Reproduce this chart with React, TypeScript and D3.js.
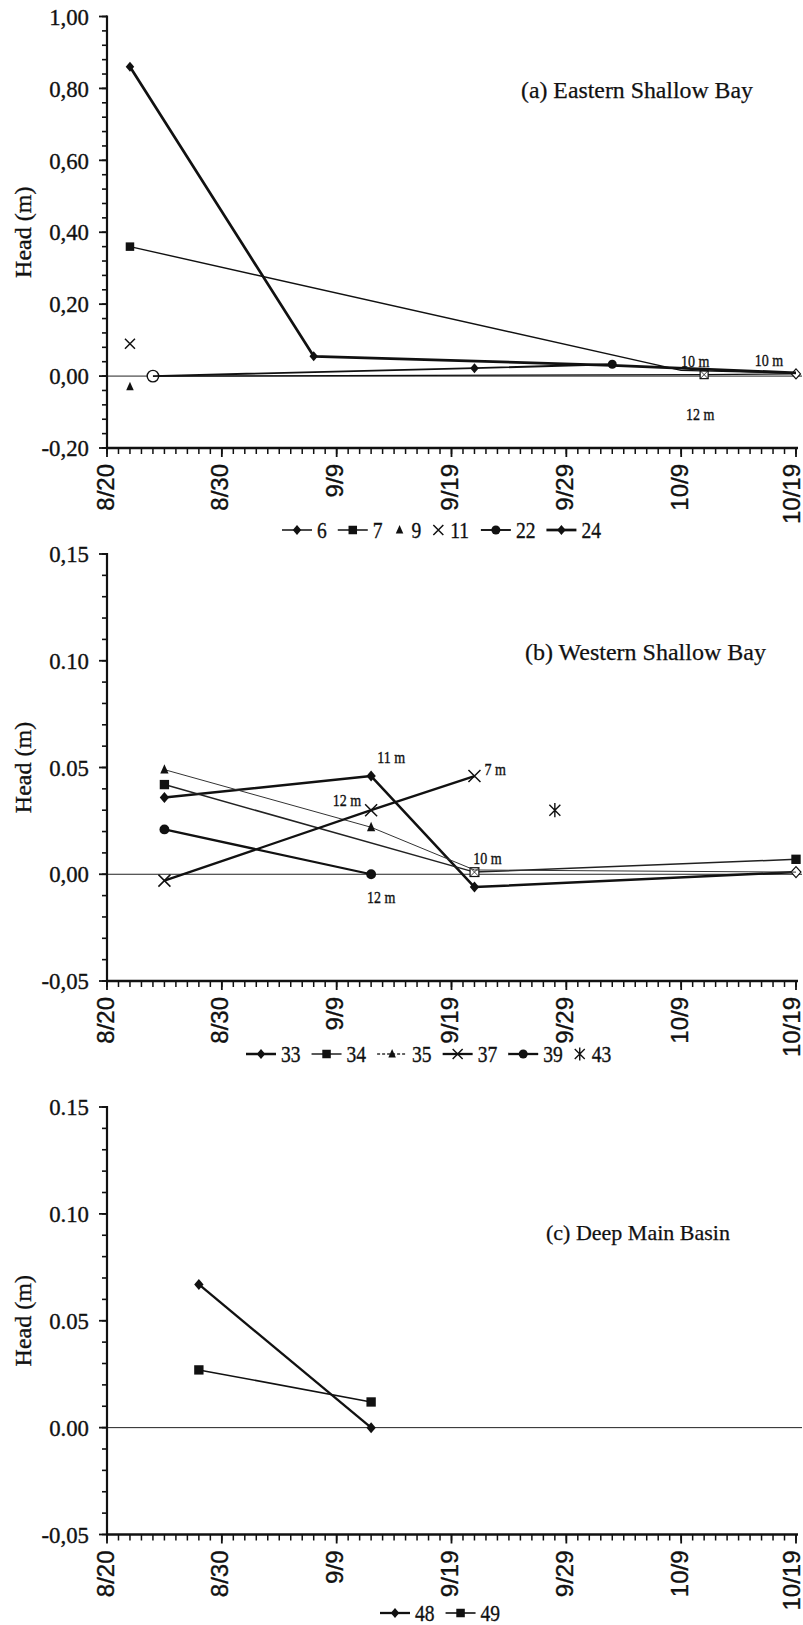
import React from "react";
import * as d3 from "d3";

// ---------- data ----------
const YEAR = 2001;
const parseDate = (s: string) => {
  const [m, d] = s.split("/").map(Number);
  return new Date(YEAR, m - 1, d);
};

const xDomain = ["8/20", "10/19"];
const xTickLabels = ["8/20", "8/30", "9/9", "9/19", "9/29", "10/9", "10/19"];

// Panel (a) Eastern Shallow Bay
const aTickValues = [1.0, 0.8, 0.6, 0.4, 0.2, 0.0, -0.2];
const aTickLabels = ["1,00", "0,80", "0,60", "0,40", "0,20", "0,00", "-0,20"];

const s6Dates = ["8/24", "10/11", "10/19"];
const s6Values = [0.0, 0.004, 0.006];
const s6Marks = ["circleOpen", "squareOpen", "diamondOpen"];

const s7Dates = ["8/22", "10/9", "10/19"];
const s7Values = [0.36, 0.016, 0.008];
const s7Marks = ["square", "none", "none"];

const s9Dates = ["8/22"];
const s9Values = [-0.03];
const s9Marks = ["triangle"];

const s11Dates = ["8/22"];
const s11Values = [0.09];
const s11Marks = ["x"];

const s22Dates = ["8/24", "9/21", "10/3"];
const s22Values = [0.0, 0.022, 0.033];
const s22Marks = ["none", "diamond", "circle"];

const s24Dates = ["8/22", "9/7", "10/3", "10/19"];
const s24Values = [0.86, 0.055, 0.03, 0.009];
const s24Marks = ["diamond", "diamond", "none", "none"];

const aNotes = ["10 m", "10 m", "12 m"];
const aNoteDates = ["10/11", "10/19", "10/11"];
const aNoteValues = [0.004, 0.006, 0.004];

// Panel (b) Western Shallow Bay
const bTickValues = [0.15, 0.1, 0.05, 0.0, -0.05];
const bTickLabels = ["0,15", "0.10", "0.05", "0,00", "-0,05"];

const s33Dates = ["8/25", "9/12", "9/21", "10/19"];
const s33Values = [0.036, 0.046, -0.006, 0.001];
const s33Marks = ["diamond", "diamond", "diamond", "diamondOpen"];

const s34Dates = ["8/25", "9/21", "10/19"];
const s34Values = [0.042, 0.001, 0.007];
const s34Marks = ["square", "squareOpen", "square"];

const s35Dates = ["8/25", "9/12", "9/21", "10/19"];
const s35Values = [0.049, 0.022, 0.002, 0.001];
const s35Marks = ["triangle", "triangle", "none", "none"];

const s37Dates = ["8/25", "9/12", "9/21"];
const s37Values = [-0.003, 0.03, 0.046];
const s37Marks = ["x", "x", "x"];

const s39Dates = ["8/25", "9/12"];
const s39Values = [0.021, 0.0];
const s39Marks = ["circle", "circle"];

const s43Dates = ["9/28"];
const s43Values = [0.03];
const s43Marks = ["asterisk"];

const bNotes = ["11 m", "12 m", "7 m", "10 m", "12 m"];
const bNoteDates = ["9/12", "9/12", "9/21", "9/21", "9/12"];
const bNoteValues = [0.046, 0.03, 0.046, 0.001, 0.0];

// Panel (c) Deep Main Basin
const cTickValues = [0.15, 0.1, 0.05, 0.0, -0.05];
const cTickLabels = ["0.15", "0.10", "0.05", "0.00", "-0,05"];

const s48Dates = ["8/28", "9/12"];
const s48Values = [0.067, 0.0];
const s48Marks = ["diamond", "diamond"];

const s49Dates = ["8/28", "9/12"];
const s49Values = [0.027, 0.012];
const s49Marks = ["square", "square"];

// ---------- styles / layout ----------
const SERIF = "Liberation Serif, Times New Roman, serif";
const SANS = "Liberation Sans, Arial, sans-serif";
const INK = "#111";
const TEXT_STROKE = 0.35;

type Series = {
  name: string;
  dates: string[];
  values: number[];
  marks: string[];
  line: boolean;
  width: number;
  legendMark: string;
  color: string;
  dash?: string;
  legendDash?: string;
  k: number;
};

const mk = (
  name: string,
  dates: string[],
  values: number[],
  marks: string[],
  line: boolean,
  width: number,
  legendMark: string,
  opts: { color?: string; dash?: string; legendDash?: string; k?: number } = {}
): Series => ({
  name,
  dates,
  values,
  marks,
  line,
  width,
  legendMark,
  color: opts.color || INK,
  dash: opts.dash,
  legendDash: opts.legendDash,
  k: opts.k || 1,
});

const X_LEFT = 107;
const X_RIGHT = 796;

type Note = { text: string; date: string; value: number; dx: number; dy: number; anchor: string };

const panels = [
  {
    top: 16.5,
    bottom: 448,
    domain: [-0.2, 1.0],
    ticks: aTickValues,
    tickLabels: aTickLabels,
    minorStep: 0.04,
    title: "(a) Eastern Shallow Bay",
    titleX: 521,
    titleY: 98,
    titleSize: 23.8,
    legendX: 282,
    legendY: 530,
    series: [
      mk("6", s6Dates, s6Values, s6Marks, true, 1.3, "diamond"),
      mk("7", s7Dates, s7Values, s7Marks, true, 1.4, "square"),
      mk("9", s9Dates, s9Values, s9Marks, false, 1, "triangle"),
      mk("11", s11Dates, s11Values, s11Marks, false, 1, "x"),
      mk("22", s22Dates, s22Values, s22Marks, true, 1.9, "circle"),
      mk("24", s24Dates, s24Values, s24Marks, true, 2.7, "diamond"),
    ],
    notes: aNotes.map((t, i) => ({
      text: t,
      date: aNoteDates[i],
      value: aNoteValues[i],
      dx: [-9, -27, -4][i],
      dy: [-8, -8, 45][i],
      anchor: "middle",
    })) as Note[],
  },
  {
    top: 554,
    bottom: 981,
    domain: [-0.05, 0.15],
    ticks: bTickValues,
    tickLabels: bTickLabels,
    minorStep: 0.01,
    title: "(b) Western Shallow Bay",
    titleX: 525,
    titleY: 660,
    titleSize: 24,
    legendX: 246,
    legendY: 1054,
    series: [
      mk("33", s33Dates, s33Values, s33Marks, true, 2.5, "diamond", { k: 1.1 }),
      mk("34", s34Dates, s34Values, s34Marks, true, 1.5, "square", { color: "#222", k: 1.1 }),
      mk("35", s35Dates, s35Values, s35Marks, true, 1.0, "triangle", { color: "#333", legendDash: "3,2", k: 1.1 }),
      mk("37", s37Dates, s37Values, s37Marks, true, 2.3, "x", { k: 1.2 }),
      mk("39", s39Dates, s39Values, s39Marks, true, 2.3, "circle", { k: 1.1 }),
      mk("43", s43Dates, s43Values, s43Marks, false, 1, "asterisk", { k: 1.1 }),
    ],
    notes: bNotes.map((t, i) => ({
      text: t,
      date: bNoteDates[i],
      value: bNoteValues[i],
      dx: [20, -10, 10, 13, 10][i],
      dy: [-13, -4, -1, -8, 29][i],
      anchor: ["middle", "end", "start", "middle", "middle"][i],
    })) as Note[],
  },
  {
    top: 1107,
    bottom: 1534.5,
    domain: [-0.05, 0.15],
    ticks: cTickValues,
    tickLabels: cTickLabels,
    minorStep: 0.01,
    title: "(c) Deep Main Basin",
    titleX: 546,
    titleY: 1240,
    titleSize: 22,
    legendX: 380,
    legendY: 1613,
    series: [
      mk("48", s48Dates, s48Values, s48Marks, true, 2.3, "diamond", { k: 1.1 }),
      mk("49", s49Dates, s49Values, s49Marks, true, 1.6, "square", { k: 1.1 }),
    ],
    notes: [] as Note[],
  },
];

// ---------- helpers ----------
function CText({
  x,
  y,
  sx = 1,
  children,
  anchor = "start",
  size,
  family = SERIF,
  baseline,
}: {
  x: number;
  y: number;
  sx?: number;
  children: React.ReactNode;
  anchor?: string;
  size: number;
  family?: string;
  baseline?: string;
}) {
  return (
    <text
      transform={`translate(${x},${y}) scale(${sx},1)`}
      textAnchor={anchor as any}
      dominantBaseline={baseline as any}
      fontFamily={family}
      fontSize={size}
      fill={INK}
      stroke={INK}
      strokeWidth={TEXT_STROKE}
    >
      {children}
    </text>
  );
}

function Marker({ type, x, y, k = 1 }: { type: string; x: number; y: number; k?: number }) {
  const s = 5 * k;
  switch (type) {
    case "diamond":
      return (
        <polygon
          points={`${x},${y - s} ${x + s * 0.85},${y} ${x},${y + s} ${x - s * 0.85},${y}`}
          fill={INK}
        />
      );
    case "diamondOpen":
      return (
        <polygon
          points={`${x},${y - s} ${x + s * 0.9},${y} ${x},${y + s} ${x - s * 0.9},${y}`}
          fill="#fff"
          stroke={INK}
          strokeWidth={1.2}
        />
      );
    case "square":
      return <rect x={x - s * 0.85} y={y - s * 0.85} width={s * 1.7} height={s * 1.7} fill={INK} />;
    case "squareOpen":
      return (
        <g>
          <rect x={x - s * 0.8} y={y - s * 0.8} width={s * 1.6} height={s * 1.6} fill="#fff" stroke={INK} strokeWidth={1.2} />
          <path
            d={`M${x - s * 0.8},${y - s * 0.8}L${x + s * 0.8},${y + s * 0.8}M${x + s * 0.8},${y - s * 0.8}L${x - s * 0.8},${y + s * 0.8}`}
            stroke={INK}
            strokeWidth={0.8}
          />
        </g>
      );
    case "circle":
      return <circle cx={x} cy={y} r={s * 0.9} fill={INK} />;
    case "circleOpen":
      return <circle cx={x} cy={y} r={s * 1.15} fill="#fff" stroke={INK} strokeWidth={1.4} />;
    case "triangle":
      return (
        <polygon
          points={`${x},${y - s} ${x + s * 0.75},${y + s * 0.7} ${x - s * 0.75},${y + s * 0.7}`}
          fill={INK}
        />
      );
    case "x":
      return (
        <path
          d={`M${x - s},${y - s}L${x + s},${y + s}M${x + s},${y - s}L${x - s},${y + s}`}
          stroke={INK}
          strokeWidth={1.5}
        />
      );
    case "asterisk":
      return (
        <path
          d={`M${x - s},${y - s}L${x + s},${y + s}M${x + s},${y - s}L${x - s},${y + s}M${x},${y - s * 1.3}L${x},${y + s * 1.3}`}
          stroke={INK}
          strokeWidth={1.4}
        />
      );
    default:
      return null;
  }
}

function Panel({ p }: { p: (typeof panels)[number] }) {
  const x = d3
    .scaleTime()
    .domain([parseDate(xDomain[0]), parseDate(xDomain[1])])
    .range([X_LEFT, X_RIGHT]);
  const y = d3.scaleLinear().domain(p.domain).range([p.bottom, p.top]);

  const days = d3.timeDay.range(parseDate(xDomain[0]), d3.timeDay.offset(parseDate(xDomain[1]), 1));
  const majorDates = xTickLabels.map(parseDate);

  const nMinor = Math.round((p.domain[1] - p.domain[0]) / p.minorStep);
  const minorVals = d3.range(nMinor + 1).map((i) => p.domain[0] + i * p.minorStep);

  const line = d3
    .line<[Date, number]>()
    .x((d) => x(d[0]))
    .y((d) => y(d[1]));

  // legend layout
  const LFONT = 23;
  const LSX = 0.85;
  const charW = LFONT * 0.5 * LSX;
  let lx = p.legendX;
  const legendItems = p.series.map((s) => {
    const symW = s.line ? 30 : 12;
    const off = s.line ? 5 : 6;
    const tw = s.name.length * charW;
    const item = { s, x0: lx, symW, tx: lx + symW + off };
    lx += symW + off + tw + 11;
    return item;
  });

  return (
    <g>
      {/* zero line */}
      <line x1={X_LEFT} x2={X_RIGHT + 6} y1={y(0)} y2={y(0)} stroke="#222" strokeWidth={1} />

      {/* y axis */}
      <line x1={X_LEFT} x2={X_LEFT} y1={p.top - 1} y2={p.bottom + 1} stroke={INK} strokeWidth={2.2} />
      {minorVals.map((v, i) => (
        <line key={"ym" + i} x1={X_LEFT - 5} x2={X_LEFT} y1={y(v)} y2={y(v)} stroke={INK} strokeWidth={1.6} />
      ))}
      {p.ticks.map((v, i) => (
        <g key={"yt" + i}>
          <line x1={X_LEFT - 8} x2={X_LEFT} y1={y(v)} y2={y(v)} stroke={INK} strokeWidth={1.8} />
          <CText x={X_LEFT - 18} y={y(v)} anchor="end" baseline="central" size={24} sx={0.95}>
            {p.tickLabels[i]}
          </CText>
        </g>
      ))}
      <text
        transform={`translate(31,${(p.top + p.bottom) / 2}) rotate(-90)`}
        textAnchor="middle"
        fontFamily={SERIF}
        fontSize={24}
        fill={INK}
        stroke={INK}
        strokeWidth={TEXT_STROKE}
      >
        Head (m)
      </text>

      {/* x axis */}
      <line x1={X_LEFT - 1} x2={X_RIGHT + 2} y1={p.bottom} y2={p.bottom} stroke={INK} strokeWidth={2.4} />
      {days.map((d, i) => (
        <line key={"xd" + i} x1={x(d)} x2={x(d)} y1={p.bottom} y2={p.bottom + 6} stroke={INK} strokeWidth={1.5} />
      ))}
      {majorDates.map((d, i) => {
        const cx = Math.min(x(d) - 2, 803 - 12);
        return (
          <g key={"xt" + i}>
            <line x1={x(d)} x2={x(d)} y1={p.bottom} y2={p.bottom + 9} stroke={INK} strokeWidth={1.8} />
            <text
              transform={`translate(${cx},${p.bottom + 16}) rotate(-90)`}
              textAnchor="end"
              dominantBaseline="central"
              fontFamily={SANS}
              fontSize={24}
              fill={INK}
              stroke={INK}
              strokeWidth={TEXT_STROKE}
            >
              {xTickLabels[i]}
            </text>
          </g>
        );
      })}

      {/* series */}
      {p.series.map((s) => {
        const pts: [Date, number][] = s.dates.map((d, i) => [parseDate(d), s.values[i]]);
        return (
          <g key={"s" + s.name}>
            {s.line && (
              <path
                d={line(pts) || ""}
                fill="none"
                stroke={s.color}
                strokeWidth={s.width}
                strokeDasharray={s.dash}
                strokeLinejoin="round"
              />
            )}
            {pts.map((pt, i) => (
              <Marker key={i} type={s.marks[i]} x={x(pt[0])} y={y(pt[1])} k={s.k} />
            ))}
          </g>
        );
      })}

      {/* notes */}
      {p.notes.map((n, i) => (
        <CText
          key={"n" + i}
          x={x(parseDate(n.date)) + n.dx}
          y={y(n.value) + n.dy}
          anchor={n.anchor}
          size={16.5}
          sx={0.85}
        >
          {n.text}
        </CText>
      ))}

      {/* title */}
      <text
        x={p.titleX}
        y={p.titleY}
        fontFamily={SERIF}
        fontSize={p.titleSize}
        fill={INK}
        stroke={INK}
        strokeWidth={0.25}
      >
        {p.title}
      </text>

      {/* legend */}
      {legendItems.map((it) => (
        <g key={"l" + it.s.name}>
          {it.s.line && (
            <line
              x1={it.x0}
              x2={it.x0 + it.symW}
              y1={p.legendY}
              y2={p.legendY}
              stroke={it.s.color}
              strokeWidth={Math.max(1.5, it.s.width)}
              strokeDasharray={it.s.legendDash}
            />
          )}
          <Marker type={it.s.legendMark} x={it.x0 + it.symW / 2} y={p.legendY} />
          <CText x={it.tx} y={p.legendY} baseline="central" size={LFONT} sx={LSX}>
            {it.s.name}
          </CText>
        </g>
      ))}
    </g>
  );
}

export default function App() {
  return (
    <svg
      width={803}
      height={1625}
      viewBox="0 0 803 1625"
      style={{ position: "absolute", left: 0, top: 0, background: "#fff" }}
    >
      <rect x={0} y={0} width={803} height={1625} fill="#fff" />
      {panels.map((p, i) => (
        <Panel key={i} p={p} />
      ))}
    </svg>
  );
}
